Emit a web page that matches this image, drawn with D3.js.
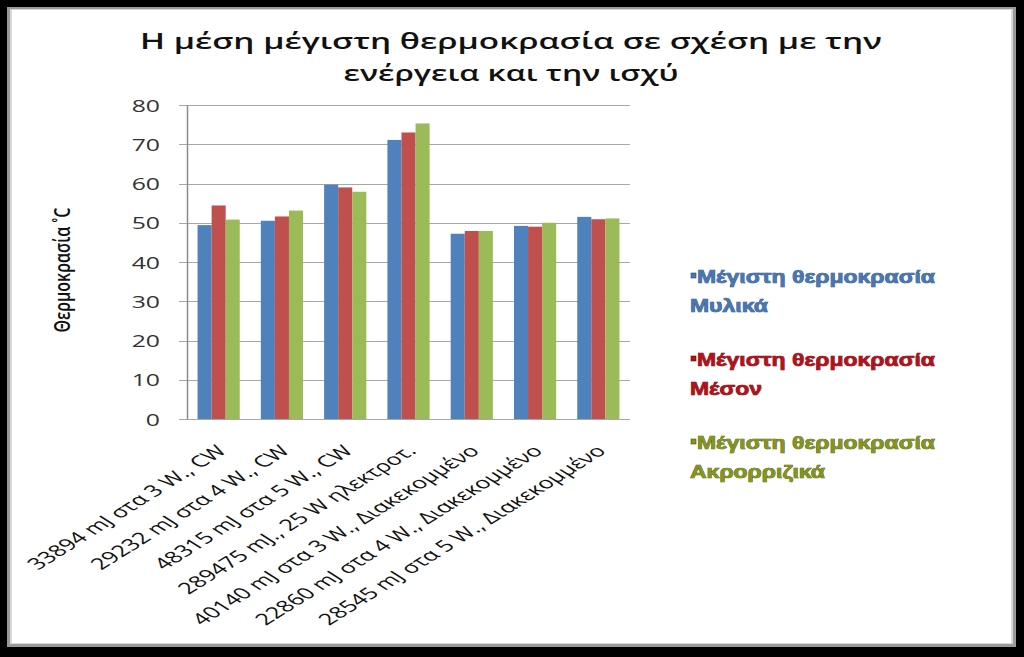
<!DOCTYPE html>
<html>
<head>
<meta charset="utf-8">
<script src="https://cdnjs.cloudflare.com/ajax/libs/d3/7.8.5/d3.min.js"></script>
<style>
  html, body { margin: 0; padding: 0; background: #fff; }
  svg { display: block; }
</style>
</head>
<body>
<svg id="chart" width="1024" height="657"></svg>
<script>
// ---- data ----
const titleLines = ["Η μέση μέγιστη θερμοκρασία σε σχέση με την", "ενέργεια και την ισχύ"];
const yAxisTitle = "Θερμοκρασία ˚C";
const categories = [
  "33894 mJ στα 3 W., CW",
  "29232 mJ στα 4 W., CW",
  "48315 mJ στα 5 W., CW",
  "289475 mJ., 25 W ηλεκτροτ.",
  "40140 mJ στα 3 W., Διακεκομμένο",
  "22860 mJ στα 4 W., Διακεκομμένο",
  "28545 mJ στα 5 W., Διακεκομμένο"
];
const seriesNames = ["Μέγιστη θερμοκρασία Μυλικά", "Μέγιστη θερμοκρασία Μέσον", "Μέγιστη θερμοκρασία Ακρορριζικά"];
const legendLine1 = ["Μέγιστη θερμοκρασία", "Μέγιστη θερμοκρασία", "Μέγιστη θερμοκρασία"];
const legendLine2 = ["Μυλικά", "Μέσον", "Ακρορριζικά"];
const mylika      = [49.4, 50.5, 59.7, 71.1, 47.2, 49.2, 51.5];
const meson       = [54.4, 51.6, 59.0, 73.0, 47.9, 49.0, 50.9];
const akrorrizika = [50.8, 53.1, 57.9, 75.3, 47.9, 50.0, 51.1];
const yTicks = [0, 10, 20, 30, 40, 50, 60, 70, 80];

const seriesValues = [mylika, meson, akrorrizika];
const barColors = ["#4F81BD", "#C0504D", "#9BBB59"];
const legendFill = ["#4877b3", "#b3121a", "#85951c"];
const legendStroke = ["#2a4a75", "#650808", "#454f0e"];

const svg = d3.select("#chart");

// ---- frame ----
svg.append("rect").attr("x", 0).attr("y", 0).attr("width", 1024).attr("height", 657).attr("fill", "#000");
svg.append("rect").attr("x", 7).attr("y", 7).attr("width", 1009).attr("height", 640).attr("fill", "#9a9a9a");
svg.append("rect").attr("x", 10).attr("y", 9).attr("width", 1003).attr("height", 635).attr("fill", "#d8d8d8");
svg.append("rect").attr("x", 12).attr("y", 10).attr("width", 999).attr("height", 633).attr("fill", "#fff");

// ---- scales ----
const plotLeft = 187, plotRight = 630, plotTop = 105, plotBottom = 419;
const x0 = d3.scaleBand().domain(categories).range([plotLeft, plotRight]).paddingInner(1/3).paddingOuter(1/6);
const x1 = d3.scaleBand().domain(d3.range(seriesNames.length)).range([0, x0.bandwidth()]);
const y = d3.scaleLinear().domain([0, 80]).range([plotBottom, plotTop]);

// ---- gridlines ----
svg.append("g")
  .selectAll("line").data(yTicks).join("line")
  .attr("x1", plotLeft - 8).attr("x2", plotRight)
  .attr("y1", d => Math.round(y(d)) + 0.5).attr("y2", d => Math.round(y(d)) + 0.5)
  .attr("stroke", "#a8a8a8").attr("stroke-width", 1.2);

// ---- y axis ----
const yAxis = svg.append("g")
  .attr("transform", `translate(${plotLeft},0)`)
  .call(d3.axisLeft(y).tickValues(yTicks).tickSize(0).tickPadding(0).tickFormat(d3.format("d")));
yAxis.select(".domain").attr("stroke", "#8c8c8c").attr("stroke-width", 1.5);
yAxis.selectAll("text")
  .attr("x", null).attr("dy", null)
  .attr("transform", "translate(-27,6) scale(1.55,1)")
  .style("font-family", "'Open Sans', sans-serif")
  .style("font-size", "16px")
  .attr("fill", "#333")
  .attr("text-anchor", "end");

// ---- bars ----
const groups = svg.append("g").selectAll("g").data(categories).join("g")
  .attr("transform", d => `translate(${x0(d)},0)`);
groups.selectAll("rect")
  .data((d, i) => seriesValues.map((vals, s) => ({ s, v: vals[i] })))
  .join("rect")
  .attr("x", d => x1(d.s))
  .attr("width", x1.bandwidth())
  .attr("y", d => y(d.v))
  .attr("height", d => y(0) - y(d.v))
  .attr("fill", d => barColors[d.s]);

// ---- x labels ----
svg.append("g").selectAll("text").data(categories).join("text")
  .attr("transform", d => `translate(${x0(d) + x0.bandwidth() / 2 + 9},452) scale(1.6,1) rotate(-45)`)
  .attr("text-anchor", "end")
  .style("font-family", "'Open Sans', sans-serif")
  .style("font-size", "15.8px")
  .attr("fill", "#111")
  .text(d => d);

// ---- y axis title ----
svg.append("text")
  .attr("transform", "translate(70,270) scale(1.3,1) rotate(-90)")
  .attr("text-anchor", "middle")
  .style("font-family", "'Open Sans', sans-serif")
  .style("font-size", "16px")
  .style("font-weight", "600")
  .attr("fill", "#111")
  .text(yAxisTitle);

// ---- title (one text, two lines) ----
const titleY = [49, 81];
const titleW = [742, 335];
const title = svg.append("text")
  .attr("text-anchor", "middle")
  .style("font-family", "'Open Sans', sans-serif")
  .style("font-size", "22px")
  .style("font-weight", "600")
  .attr("fill", "#111");
titleLines.forEach((t, i) => {
  title.append("tspan")
    .attr("x", 511).attr("y", titleY[i])
    .attr("textLength", titleW[i])
    .attr("lengthAdjust", "spacingAndGlyphs")
    .text(t);
});

// ---- legend ----
const legend = svg.append("g");
const legBase = [283, 366, 449];
const lineGap = 29;
const probe = legend.append("text")
  .style("font-family", "'Liberation Sans', Arial, sans-serif")
  .style("font-size", "18px").style("font-weight", "bold")
  .text(legendLine1[0]);
const natW = probe.node().getComputedTextLength();
probe.remove();
const sx = 238 / natW;
seriesNames.forEach((name, i) => {
  legend.append("rect")
    .attr("x", 691).attr("y", legBase[i] - 10).attr("width", 5).attr("height", 5)
    .attr("fill", legendFill[i]).attr("stroke", legendStroke[i]).attr("stroke-width", 0.6);
  [[legendLine1[i], 697, legBase[i]], [legendLine2[i], 690, legBase[i] + lineGap]].forEach(([t, lx, ly]) => {
    legend.append("text")
      .attr("transform", `translate(${lx},${ly}) scale(${sx},1)`)
      .style("font-family", "'Liberation Sans', Arial, sans-serif")
      .style("font-size", "18px").style("font-weight", "bold")
      .attr("fill", legendFill[i])
      .attr("stroke", legendStroke[i]).attr("stroke-width", 0.7)
      .attr("paint-order", "stroke")
      .text(t);
  });
});
</script>
</body>
</html>
